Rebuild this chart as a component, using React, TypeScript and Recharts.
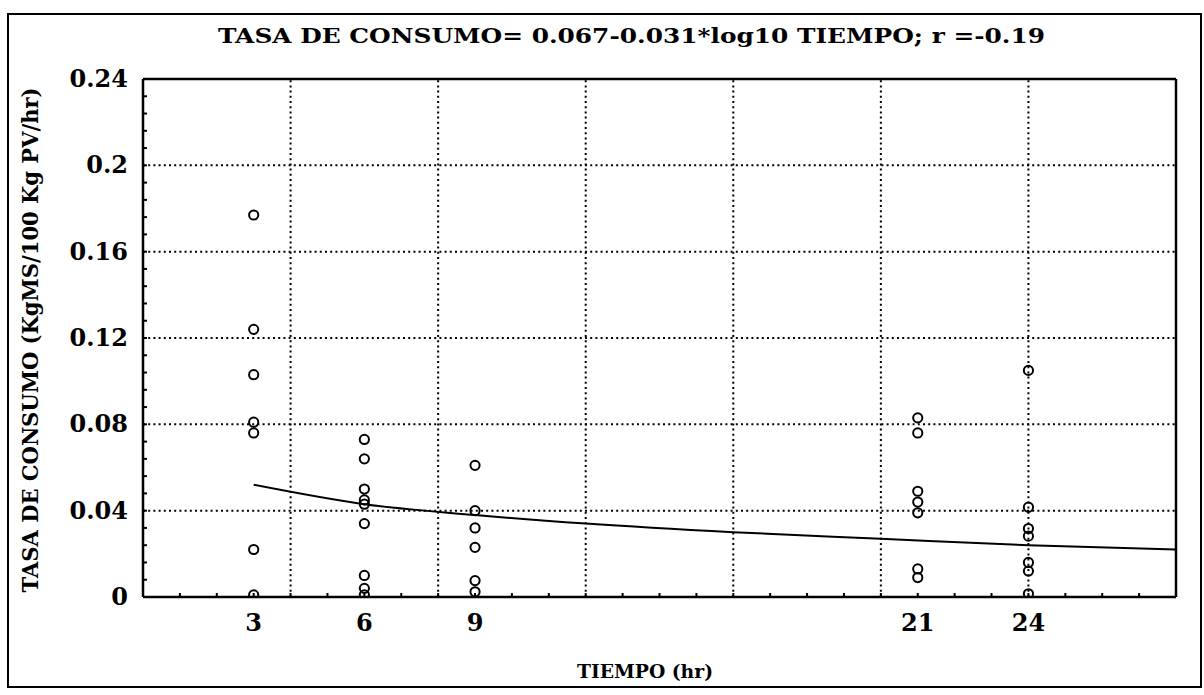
import React from 'react';
import {
  ComposedChart,
  Scatter,
  Line,
  XAxis,
  YAxis,
  ReferenceLine,
} from 'recharts';

const FONT = '"DejaVu Serif", "Liberation Serif", serif';

const TITLE = 'TASA DE CONSUMO= 0.067-0.031*log10 TIEMPO; r =-0.19';
const Y_LABEL = 'TASA DE CONSUMO (KgMS/100 Kg PV/hr)';
const X_LABEL = 'TIEMPO (hr)';

// axis ticks
const xTicks = [3, 6, 9, 21, 24];
const xGridLines = [4, 8, 12, 16, 20, 24];
const yTicks = [0, 0.04, 0.08, 0.12, 0.16, 0.2, 0.24];
const yGridLines = [0.04, 0.08, 0.12, 0.16, 0.2];
const xMinorTicks = [0, 1, 2, 3, 4, 5, 6, 7, 8, 9, 10, 11, 12, 13, 14, 15, 16, 17, 18, 19, 20, 21, 22, 23, 24, 25, 26, 27, 28];
const yMinorTicks = [
  0, 0.008, 0.016, 0.024, 0.032, 0.04, 0.048, 0.056, 0.064, 0.072, 0.08, 0.088, 0.096, 0.104, 0.112, 0.12,
  0.128, 0.136, 0.144, 0.152, 0.16, 0.168, 0.176, 0.184, 0.192, 0.2, 0.208, 0.216, 0.224, 0.232, 0.24,
];

// observed consumption rates per time (hr)
const times = [3, 6, 9, 21, 24];
const rates3 = [0.177, 0.124, 0.103, 0.081, 0.076, 0.022, 0.001];
const rates6 = [0.073, 0.064, 0.05, 0.045, 0.043, 0.034, 0.01, 0.004, 0.001];
const rates9 = [0.061, 0.04, 0.032, 0.023, 0.0076, 0.0024];
const rates21 = [0.083, 0.076, 0.049, 0.044, 0.039, 0.013, 0.009];
const rates24 = [0.105, 0.0416, 0.0317, 0.0282, 0.016, 0.012, 0.0015];

// fitted curve
const fitTimes = [3, 6, 9, 12, 16, 20, 24, 28];
const fitRates = [0.052, 0.043, 0.038, 0.034, 0.03, 0.027, 0.024, 0.022];

const rateGroups = [rates3, rates6, rates9, rates21, rates24];
const points = rateGroups.flatMap((g, i) => g.map((v) => ({ t: times[i], v })));
const fitData = fitTimes.map((t, i) => ({ t, v: fitRates[i] }));

const dotted = { stroke: '#000', strokeWidth: 2, strokeDasharray: '2 3.2' };
const border = { stroke: '#000', strokeWidth: 2.5 };
const tickFont = { fill: '#000', fontSize: 24, fontWeight: 'bold' as const, fontFamily: FONT };

const OpenCircle = (p: any) => (
  <circle cx={p.cx} cy={p.cy} r={4.6} fill="none" stroke="#000" strokeWidth={2} />
);

const BottomTick = (p: any) => {
  const v = p.payload.value;
  return (
    <g>
      <line x1={p.x} x2={p.x} y1={p.y} y2={p.y - 4} stroke="#000" strokeWidth={2} />
      {xTicks.includes(v) && (
        <text x={p.x} y={p.y + 34} textAnchor="middle" {...tickFont}>
          {String(v)}
        </text>
      )}
    </g>
  );
};

const LeftTick = (p: any) => {
  const v = p.payload.value;
  return (
    <g>
      <line x1={p.x} x2={p.x + 4} y1={p.y} y2={p.y} stroke="#000" strokeWidth={2} />
      {yTicks.includes(v) && (
        <text x={p.x - 15} y={p.y + 8} textAnchor="end" {...tickFont}>
          {String(v)}
        </text>
      )}
    </g>
  );
};

export default function App() {
  return (
    <div style={{ position: 'absolute', left: 0, top: 0, width: 1204, height: 695, background: '#fff' }}>
      <ComposedChart
        width={1204}
        height={695}
        margin={{ top: 79, right: 28, bottom: 68, left: 83 }}
        style={{ position: 'absolute', left: 0, top: 0 }}
      >
        {yGridLines.map((y) => (
          <ReferenceLine key={'h' + y} y={y} {...dotted} />
        ))}
        {xGridLines.map((x) => (
          <ReferenceLine key={'v' + x} x={x} {...dotted} />
        ))}
        <XAxis
          type="number"
          dataKey="t"
          domain={[0, 28]}
          ticks={xMinorTicks}
          interval={0}
          allowDataOverflow
          height={30}
          tickLine={false}
          tickSize={0}
          tickMargin={0}
          axisLine={border}
          tick={BottomTick}
        />
        <XAxis
          xAxisId="top"
          orientation="top"
          type="number"
          dataKey="t"
          domain={[0, 28]}
          ticks={xMinorTicks}
          interval={0}
          height={1}
          mirror
          tick={false}
          tickSize={4}
          tickLine={{ stroke: '#000', strokeWidth: 2 }}
          axisLine={border}
        />
        <YAxis
          type="number"
          domain={[0, 0.24]}
          ticks={yMinorTicks}
          interval={0}
          allowDataOverflow
          width={60}
          tickLine={false}
          tickSize={0}
          tickMargin={0}
          axisLine={border}
          tick={LeftTick}
        />
        <YAxis
          yAxisId="right"
          orientation="right"
          type="number"
          domain={[0, 0.24]}
          ticks={yMinorTicks}
          interval={0}
          width={1}
          mirror
          tick={false}
          tickSize={4}
          tickLine={{ stroke: '#000', strokeWidth: 2 }}
          axisLine={border}
        />
        <Line
          data={fitData}
          dataKey="v"
          type="monotone"
          stroke="#000"
          strokeWidth={2}
          dot={false}
          activeDot={false}
          isAnimationActive={false}
        />
        <Scatter data={points} dataKey="v" shape={OpenCircle} isAnimationActive={false} />
      </ComposedChart>
      <svg
        width={1204}
        height={695}
        style={{ position: 'absolute', left: 0, top: 0, pointerEvents: 'none' }}
      >
        <rect x={8} y={14} width={1193} height={673} fill="none" stroke="#000" strokeWidth={2} />
        <text
          x={218}
          y={43}
          textLength={827}
          lengthAdjust="spacingAndGlyphs"
          fontFamily={FONT}
          fontWeight="bold"
          fontSize={21}
          fill="#000"
        >
          {TITLE}
        </text>
        <text
          x={577}
          y={678}
          textLength={136}
          lengthAdjust="spacingAndGlyphs"
          fontFamily={FONT}
          fontWeight="bold"
          fontSize={19}
          fill="#000"
        >
          {X_LABEL}
        </text>
        <text
          transform="translate(38, 340) rotate(-90)"
          x={0}
          y={0}
          textAnchor="middle"
          textLength={505}
          lengthAdjust="spacingAndGlyphs"
          fontFamily={FONT}
          fontWeight="bold"
          fontSize={22}
          fill="#000"
        >
          {Y_LABEL}
        </text>
      </svg>
    </div>
  );
}
